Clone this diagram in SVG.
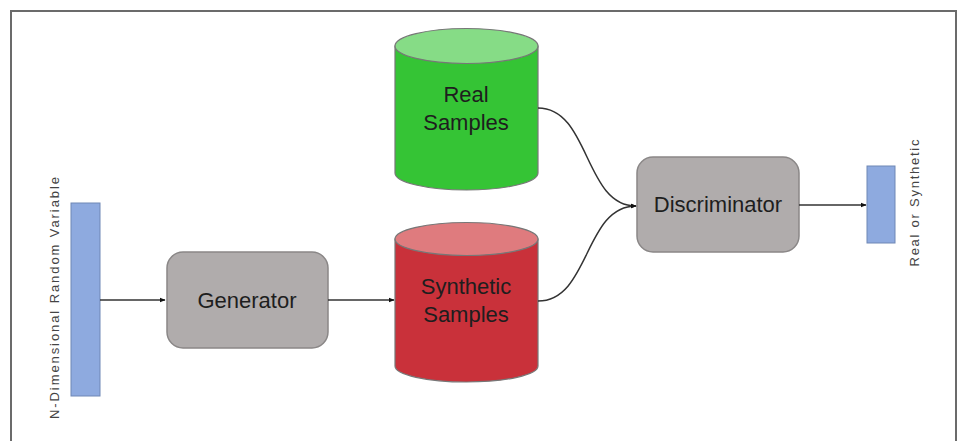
<svg xmlns="http://www.w3.org/2000/svg" width="958" height="441" viewBox="0 0 958 441">
<style>
.box{fill:#b0acac;stroke:#8a8787;stroke-width:1.5}
.bar{fill:#8eaadf;stroke:#6f87b5;stroke-width:1}
.lbl{font-family:"Liberation Sans",Arial,sans-serif;font-size:22px;fill:#1e1e1e;text-anchor:middle}
.side{font-family:"Liberation Sans",Arial,sans-serif;font-size:13px;fill:#444;text-anchor:middle}
.con{fill:none;stroke:#333;stroke-width:1.5}
.cyl{stroke:#777;stroke-width:1.2}
</style>
<defs>
<marker id="ah" viewBox="0 0 10 10" refX="9" refY="5" markerWidth="6" markerHeight="6" markerUnits="userSpaceOnUse" orient="auto">
<path d="M0,1 L10,5 L0,9 Z" fill="#111"/>
</marker>
</defs>
<rect x="0" y="0" width="958" height="441" fill="#fff"/>
<path d="M11,441 V11 H956 V441" fill="none" stroke="#6b6b6b" stroke-width="2"/>

<g id="input">
<rect class="bar" x="71" y="203" width="29" height="193"/>
<text class="side" transform="translate(59,298) rotate(-90)" textLength="242" lengthAdjust="spacing">N-Dimensional  Random  Variable</text>
</g>

<g id="generator">
<rect class="box" x="167" y="252" width="161" height="96" rx="16"/>
<text class="lbl" x="247" y="308">Generator</text>
</g>

<g id="real">
<path class="cyl" d="M395,46 V173 A71.5,17 0 0 0 538,173 V46 Z" fill="#35c435"/>
<ellipse class="cyl" cx="466.5" cy="46" rx="71.5" ry="17.5" fill="#86dc86"/>
<text class="lbl" x="466" y="102">Real</text>
<text class="lbl" x="466" y="130">Samples</text>
</g>

<g id="synthetic">
<path class="cyl" d="M395,239 V366 A71.5,16 0 0 0 538,366 V239 Z" fill="#c9313a"/>
<ellipse class="cyl" cx="466.5" cy="239" rx="71.5" ry="16.5" fill="#df7b7e"/>
<text class="lbl" x="466" y="294">Synthetic</text>
<text class="lbl" x="466" y="322">Samples</text>
</g>

<g id="discriminator">
<rect class="box" x="637" y="157" width="162" height="95" rx="16"/>
<text class="lbl" x="718" y="212">Discriminator</text>
</g>

<g id="output">
<rect class="bar" x="867" y="166" width="28" height="77"/>
<text class="side" transform="translate(919,203) rotate(-90)" textLength="127" lengthAdjust="spacing">Real  or  Synthetic</text>
</g>

<g id="connectors">
<path class="con" d="M100,300 H165" marker-end="url(#ah)"/>
<path class="con" d="M328,300 H394" marker-end="url(#ah)"/>
<path class="con" d="M538,108 C590,108 584,206 636,206" marker-end="url(#ah)"/>
<path class="con" d="M538,301 C590,301 584,206 636,206" marker-end="url(#ah)"/>
<path class="con" d="M799,205 H866" marker-end="url(#ah)"/>
</g>
</svg>
